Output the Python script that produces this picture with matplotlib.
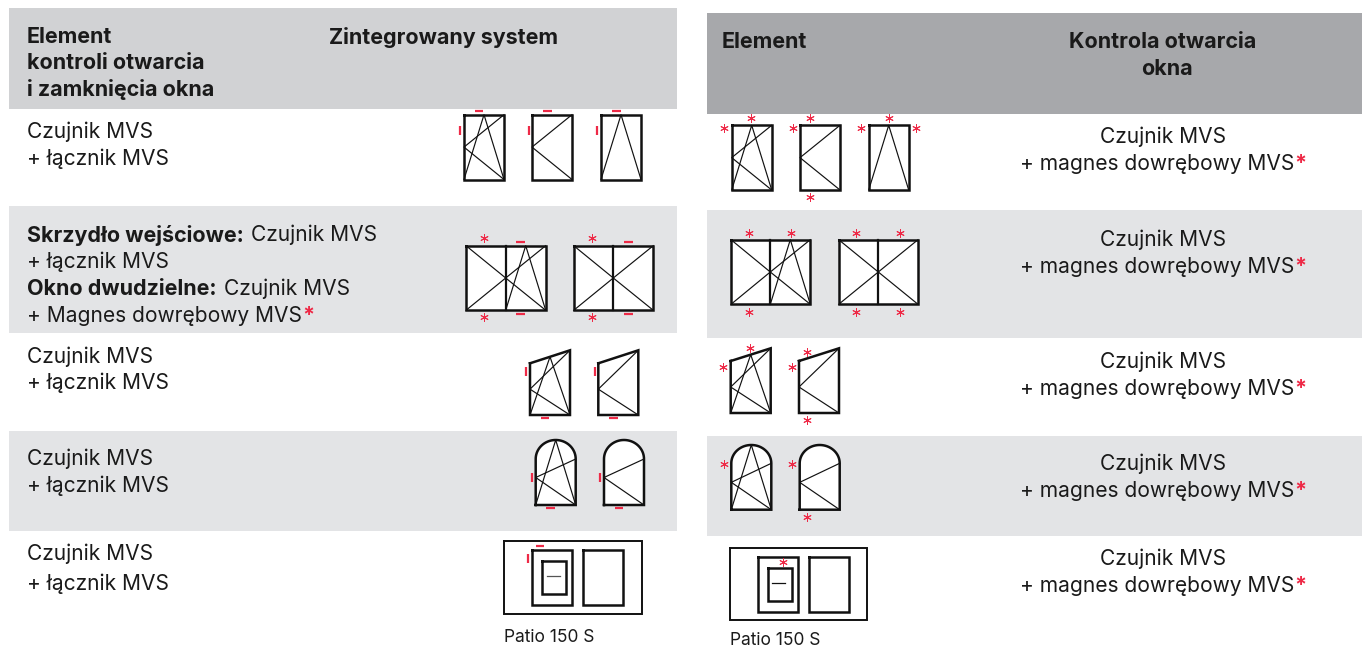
import numpy as np
import matplotlib
matplotlib.use("Agg")
import matplotlib.pyplot as plt
from matplotlib.patches import Rectangle

plt.rcParams['font.family'] = ['Inter', 'Liberation Sans', 'DejaVu Sans']

RED = '#ee2a47'
FONT_PX = 21.0
BOLD_PX = 21.5

# row texts
row_first = "Czujnik MVS"
row_second = "+ łącznik MVS"
row_right = "+ magnes dowrębowy MVS"
left_rows_y = [(130, 157), (355, 381), (457, 484), (552, 582)]
right_rows_y = [(135, 162), (238, 265), (360, 387), (462, 489), (557, 584)]
header_left = ["Element", "kontroli otwarcia", "i zamknięcia okna"]
header_left_y = [35, 61, 87]

# pixel layout: (x0, x1, y0, y1)
bands = [
    (9, 677, 8, 109, '#d1d2d4'),
    (707, 1362, 13, 114, '#a7a8ab'),
    (9, 677, 206, 333, '#e3e4e6'),
    (9, 677, 431, 531, '#e3e4e6'),
    (707, 1362, 210, 338, '#e3e4e6'),
    (707, 1362, 436, 536, '#e3e4e6'),
]

fig = plt.figure(figsize=(13.62, 6.48), dpi=100)
ax = fig.add_axes([0, 0, 1, 1])
ax.set_xlim(0, 1362)
ax.set_ylim(648, 0)
ax.axis("off")

for x0, x1, y0, y1, c in bands:
    ax.add_patch(Rectangle((x0, y0), x1 - x0, y1 - y0, fc=c, ec='none', zorder=0))


def frame(xs, ys, lw=1.8):
    ax.fill(xs, ys, fc='white', ec='none', zorder=1)
    ax.plot(list(xs) + [xs[0]], list(ys) + [ys[0]], color='#111111', lw=lw,
            solid_joinstyle='miter', zorder=3)


def thin(x, y):
    ax.plot(x, y, color='#111111', lw=0.85, zorder=2)


def arch_outline(x0, x1, spring, top, bottom):
    t = np.linspace(np.pi, 2 * np.pi, 40)
    cx = (x0 + x1) / 2
    xs = [x0] + list(cx + (x1 - x0) / 2 * np.cos(t)) + [x1]
    ys = [bottom] + list(spring + (spring - top) * np.sin(t)) + [bottom]
    return xs, ys


def window(x0, x1, top_l, top_r, bottom, kind, shape='rect', spring=None):
    # kind: tt = tilt and turn, t = turn only, k = tilt only
    ymid = (top_l + bottom) / 2
    cx = (x0 + x1) / 2
    top_c = (top_l + top_r) / 2
    right_top = top_r
    if shape == 'arch':
        xs, ys = arch_outline(x0, x1, spring, top_l, bottom)
        right_top = spring
        ymid = (top_l + bottom) / 2 + 5
    else:
        xs, ys = [x0, x1, x1, x0], [top_l, top_r, bottom, bottom]
    frame(xs, ys)
    if kind in ('tt', 'k'):
        thin([x0, cx, x1], [bottom, top_c, bottom])
    if kind in ('tt', 't'):
        thin([x1, x0, x1], [right_top, ymid, bottom])


def double(x0, xm, x1, top, bottom, tilt):
    frame([x0, x1, x1, x0], [top, top, bottom, bottom])
    ax.plot([xm, xm], [top, bottom], color='#111111', lw=1.6, zorder=3)
    ymid = (top + bottom) / 2
    thin([x0, xm, x0], [top, ymid, bottom])
    thin([x1, xm, x1], [top, ymid, bottom])
    if tilt:
        thin([xm, (xm + x1) / 2, x1], [bottom, top, bottom])


def patio(x0, x1, y0, y1, a0, a1, b0, b1, iy0, iy1, s0, s1, sy0, sy1, d0, d1, dy, dc):
    for xa, xb, ya, yb, lw in [(x0, x1, y0, y1, 1.4), (a0, a1, iy0, iy1, 1.8),
                               (b0, b1, iy0, iy1, 1.8), (s0, s1, sy0, sy1, 1.8)]:
        ax.plot([xa, xb, xb, xa, xa], [ya, ya, yb, yb, ya], color='#111111', lw=lw,
                solid_joinstyle='miter', zorder=3)
    ax.plot([d0, d1], [dy, dy], color=dc, lw=0.9, zorder=3)


def hmark(x0, x1, y):
    ax.plot([x0, x1], [y, y], color=RED, lw=1.6, solid_capstyle='butt', zorder=4)


def vmark(x, y0, y1):
    ax.plot([x, x], [y0, y1], color=RED, lw=1.6, solid_capstyle='butt', zorder=4)


def stars(points):
    ax.plot([p[0] for p in points], [p[1] for p in points], ls='none',
            marker=(6, 2, 0), ms=6, mew=0.7, color=RED, zorder=4)


def runs(x, y, parts, center=False, size=None):
    # parts = (text, weight, colour); placed one after another on a baseline
    r = fig.canvas.get_renderer()
    items = []
    total = 0
    for text, weight, color in parts:
        px = size or (BOLD_PX if weight == 'bold' else FONT_PX)
        t = ax.text(0, y, text, fontsize=px * 0.72, fontweight=weight, color=color,
                    va='center_baseline', ha='left', zorder=5)
        w = t.get_window_extent(r).width
        if text.endswith(' '):
            w += px * 0.1
        items.append((t, w))
        total += w
    cur = x - total / 2 if center else x
    for t, w in items:
        t.set_x(cur)
        cur += w


DARK = '#1a1a1a'

# left panel text
for txt, y in zip(header_left, header_left_y):
    runs(27, y, [(txt, 'bold', DARK)])
runs(329, 35, [("Zintegrowany system", 'bold', DARK)])
for y1, y2 in left_rows_y:
    runs(27, y1, [(row_first, 'normal', DARK)])
    runs(27, y2, [(row_second, 'normal', DARK)])
runs(27, 233, [("Skrzydło wejściowe: ", 'bold', DARK), (row_first, 'normal', DARK)])
runs(27, 260, [(row_second, 'normal', DARK)])
runs(27, 287, [("Okno dwudzielne: ", 'bold', DARK), (row_first, 'normal', DARK)])
runs(27, 314, [("+ Magnes dowrębowy MVS", 'normal', DARK), ("*", 'bold', RED)])
runs(504, 636, [("Patio 150 S", 'normal', DARK)], size=17.4)

# right panel text
runs(722, 40, [("Element", 'bold', DARK)])
runs(1163, 40, [("Kontrola otwarcia", 'bold', DARK)], center=True)
runs(1167, 67, [("okna", 'bold', DARK)], center=True)
for y1, y2 in right_rows_y:
    runs(1163, y1, [(row_first, 'normal', DARK)], center=True)
    runs(1163, y2, [(row_right, 'normal', DARK), ("*", 'bold', RED)], center=True)
runs(730, 638.5, [("Patio 150 S", 'normal', DARK)], size=17.4)

# left panel windows
window(464, 504, 114.7, 114.7, 179.5, 'tt')
window(532, 572, 114.7, 114.7, 179.5, 't')
window(601, 641, 114.7, 114.7, 179.5, 'k')
for x, a, b in [(460, 475, 483), (529, 543, 552), (597, 612, 621)]:
    vmark(x, 126, 135)
    hmark(a, b, 111)

double(466, 505.7, 545.7, 245.7, 310.3, True)
double(573.7, 613.3, 653.3, 245.7, 310.3, False)
stars([(483.7, 238.3), (483.7, 317.3), (591.7, 238.3), (591.7, 317.3)])
for a, b in [(516, 525), (624, 633)]:
    hmark(a, b, 242.3)
    hmark(a, b, 313.7)

window(530, 570, 363.3, 350.3, 415, 'tt')
window(598.3, 638.3, 363.3, 350.3, 415, 't')
vmark(526.3, 367, 376)
vmark(595, 367, 376)
hmark(540.7, 549.3, 418.3)
hmark(609, 617.7, 418.3)

window(535.7, 575.7, 440, 440, 505, 'tt', 'arch', 459)
window(604, 644, 440, 440, 505, 't', 'arch', 459)
vmark(532, 473, 482)
vmark(600.3, 473, 482)
hmark(546, 555, 508)
hmark(614.7, 623.3, 508)

patio(504, 641.7, 541.3, 613.7, 532, 571.7, 583.3, 623.3, 550, 605.3,
      542, 566, 561.3, 594.3, 546.7, 559.7, 576.3, '#555555')
hmark(535.7, 544.3, 546.3)
vmark(528.3, 554, 563)

# right panel windows
window(731.7, 771.7, 125.3, 125.3, 190, 'tt')
window(800, 840, 125.3, 125.3, 190, 't')
window(868.7, 908.7, 125.3, 125.3, 190, 'k')
stars([(751.3, 118.3), (724, 127.7), (809.7, 118.3), (792.7, 127.7), (809.7, 197),
       (888.7, 118.3), (861.3, 127.7), (916, 127.7)])

double(731, 770.3, 810.3, 239.7, 304.3, True)
double(838.7, 878.3, 918, 239.7, 304.3, False)
stars([(748.7, 232.7), (790.7, 232.7), (748.7, 311.7), (856.3, 232.7), (900, 232.7),
       (856.3, 311.7), (900, 311.7)])

window(730.7, 770.7, 361, 348.3, 413, 'tt')
window(799, 839, 361, 348.3, 413, 't')
stars([(750.3, 348.3), (723.3, 367), (807, 352.3), (791.7, 367), (807, 420.3)])

window(731.3, 771.3, 445, 445, 509.7, 'tt', 'arch', 463.3)
window(799.7, 839.7, 445, 445, 509.7, 't', 'arch', 463.3)
stars([(724, 463.7), (792.3, 463.7), (807.3, 517)])

patio(730, 867.3, 548, 620.3, 758, 797.7, 809, 849, 556.7, 612,
      768, 791.7, 567.7, 601, 772.3, 785.3, 583.3, '#111111')
stars([(782.7, 562.3)])

plt.savefig("out.png", dpi=100)
